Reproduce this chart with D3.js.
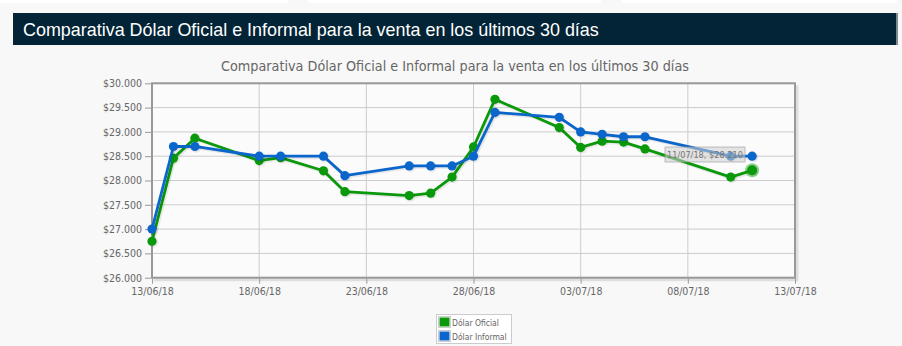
<!DOCTYPE html>
<html><head><meta charset="utf-8">
<script src="https://cdn.jsdelivr.net/npm/d3@7/dist/d3.min.js"></script>
<style>
html,body{margin:0;padding:0;background:#f8f8f8;}
svg{display:block;}
</style></head>
<body>
<svg id="c" width="902" height="346"></svg>
<script>
const title = "Comparativa Dólar Oficial e Informal para la venta en los últimos 30 días";
const dates = ["13/06/18","14/06/18","15/06/18","18/06/18","19/06/18","21/06/18","22/06/18","25/06/18","26/06/18","27/06/18","28/06/18","29/06/18","02/07/18","03/07/18","04/07/18","05/07/18","06/07/18","10/07/18","11/07/18"];
const oficial = [26.75,28.46,28.87,28.41,28.47,28.20,27.77,27.69,27.74,28.07,28.69,29.67,29.09,28.68,28.81,28.79,28.65,28.07,28.21];
const informal = [27.00,28.70,28.70,28.50,28.50,28.50,28.10,28.30,28.30,28.30,28.50,29.40,29.30,29.00,28.95,28.90,28.90,28.50,28.50];
const seriesNames = ["Dólar Oficial","Dólar Informal"];
const seriesColors = ["#0a990a","#0b66cc"];
const yTicks = [26,26.5,27,27.5,28,28.5,29,29.5,30];
const xTickLabels = ["13/06/18","18/06/18","23/06/18","28/06/18","03/07/18","08/07/18","13/07/18"];
const tooltipText = "11/07/18, $28.210";

const parse = d3.utcParse("%d/%m/%y");
const fmtDate = d3.utcFormat("%d/%m/%y");
const fmtMoney = v => "$" + d3.format(".3f")(v);

const svg = d3.select("#c");
function fit(sel, w){ const n=sel.node(); const fs=parseFloat(sel.attr("font-size")); const l=n.getComputedTextLength(); sel.attr("font-size", (fs*w/l).toFixed(2)); }

// top white strips
[[0,288],[308,601],[621,897]].forEach(([a,b])=>svg.append("rect").attr("x",a).attr("y",0).attr("width",b-a).attr("height",3).attr("fill","#fff"));

// header bar
svg.append("rect").attr("x",13).attr("y",13).attr("width",883).attr("height",32).attr("fill","#022436");
svg.append("rect").attr("x",896).attr("y",13).attr("width",2).attr("height",32).attr("fill","#7d8a92");
const ht = svg.append("text").attr("x",23).attr("y",36).attr("fill","#fff")
  .attr("font-family","Liberation Sans, Arial, sans-serif").attr("font-size",18).text(title);
fit(ht, 576);

// chart title
const ct = svg.append("text").attr("x",455).attr("y",71).attr("text-anchor","middle").attr("fill","#666")
  .attr("font-family","DejaVu Sans Condensed, DejaVu Sans, sans-serif").attr("font-size",14).text(title);
fit(ct, 468);

const L=152, R=795, T=83.3, B=277.7;
const x = d3.scaleUtc().domain([parse(xTickLabels[0]), parse(xTickLabels[xTickLabels.length-1])]).range([L,R]);
const y = d3.scaleLinear().domain([yTicks[0], yTicks[yTicks.length-1]]).range([B,T]);

// plot background
svg.append("rect").attr("x",L).attr("y",T).attr("width",R-L).attr("height",B-T).attr("fill","#fbfbfb");

// grid
const g = svg.append("g");
g.selectAll(".hg").data(yTicks).join("line").attr("x1",L).attr("x2",R).attr("y1",d=>y(d)).attr("y2",d=>y(d)).attr("stroke","#cccccc").attr("stroke-width",1);
g.selectAll(".vg").data(xTickLabels).join("line").attr("x1",d=>x(parse(d))).attr("x2",d=>x(parse(d))).attr("y1",T).attr("y2",B).attr("stroke","#cccccc").attr("stroke-width",1);

// border shadow & border
svg.append("path").attr("d",`M${R+2},${T+2}V${B+2}H${L+2}`).attr("fill","none").attr("stroke","rgba(0,0,0,0.10)").attr("stroke-width",3);
svg.append("rect").attr("x",L).attr("y",T).attr("width",R-L).attr("height",B-T).attr("fill","none").attr("stroke","#999").attr("stroke-width",2);

// axes
const yAxis = d3.axisLeft(y).tickValues(yTicks).tickFormat(fmtMoney).tickSize(6).tickPadding(3);
const ya = svg.append("g").attr("transform",`translate(${L-1},0)`).call(yAxis);
const xAxis = d3.axisBottom(x).tickValues(xTickLabels.map(parse)).tickFormat(fmtDate).tickSize(5).tickPadding(4);
const xa = svg.append("g").attr("transform",`translate(0,${B+1})`).call(xAxis);
[ya,xa].forEach(a=>{
  a.select(".domain").remove();
  a.selectAll(".tick line").attr("stroke","#999").attr("stroke-width",1);
  a.selectAll(".tick text").attr("fill","#666").attr("font-family","DejaVu Sans Condensed, DejaVu Sans, sans-serif").attr("font-size",10.5);
});

// series
const series = [oficial, informal];
const line = d3.line().x((d,i)=>x(parse(dates[i]))).y(d=>y(d));
series.forEach((s,k)=>{
  const sg = svg.append("g");
  sg.append("path").datum(s).attr("d",line).attr("transform","translate(1.2,1.2)").attr("fill","none").attr("stroke","rgba(0,0,0,0.08)").attr("stroke-width",3.5);
  sg.append("path").datum(s).attr("d",line).attr("fill","none").attr("stroke",seriesColors[k]).attr("stroke-width",2.8).attr("stroke-linejoin","round");
  sg.selectAll(".sh").data(s).join("circle").attr("cx",(d,i)=>x(parse(dates[i]))+1.2).attr("cy",d=>y(d)+1.2).attr("r",5).attr("fill","rgba(0,0,0,0.08)");
  sg.selectAll(".pt").data(s).join("circle").attr("cx",(d,i)=>x(parse(dates[i]))).attr("cy",d=>y(d)).attr("r",4.6).attr("fill",seriesColors[k]);
});

// highlighted point (last oficial)
const hi = oficial.length-1;
const hx = x(parse(dates[hi])), hy = y(oficial[hi]);
svg.append("circle").attr("cx",hx).attr("cy",hy).attr("r",7).attr("fill","rgba(10,153,10,0.45)");
svg.append("circle").attr("cx",hx).attr("cy",hy).attr("r",5).attr("fill",seriesColors[0]);

// tooltip
const tg = svg.append("g");
const tr = tg.append("rect").attr("x",665).attr("y",147).attr("width",80).attr("height",15).attr("fill","rgba(208,208,208,0.55)").attr("stroke","rgba(153,153,153,0.6)").attr("stroke-width",1);
const tt = tg.append("text").attr("x",667).attr("y",158).attr("fill","#777").attr("font-family","DejaVu Sans Condensed, DejaVu Sans, sans-serif").attr("font-size",10).text(tooltipText);
fit(tt, 76);

// legend
const lg = svg.append("g");
lg.append("rect").attr("x",436.5).attr("y",314.5).attr("width",75).attr("height",29).attr("fill","#fff").attr("stroke","#ccc").attr("stroke-width",1);
seriesNames.forEach((n,i)=>{
  lg.append("rect").attr("x",438.5).attr("y",316.5+i*14).attr("width",12).attr("height",11).attr("fill","none").attr("stroke","#ccc");
  lg.append("rect").attr("x",439.5).attr("y",317.5+i*14).attr("width",10).attr("height",9).attr("fill",seriesColors[i]);
  lg.append("text").attr("x",452).attr("y",326+i*14).attr("fill","#666").attr("font-family","DejaVu Sans Condensed, DejaVu Sans, sans-serif").attr("font-size",8.5).text(n);
});
</script>
</body></html>
